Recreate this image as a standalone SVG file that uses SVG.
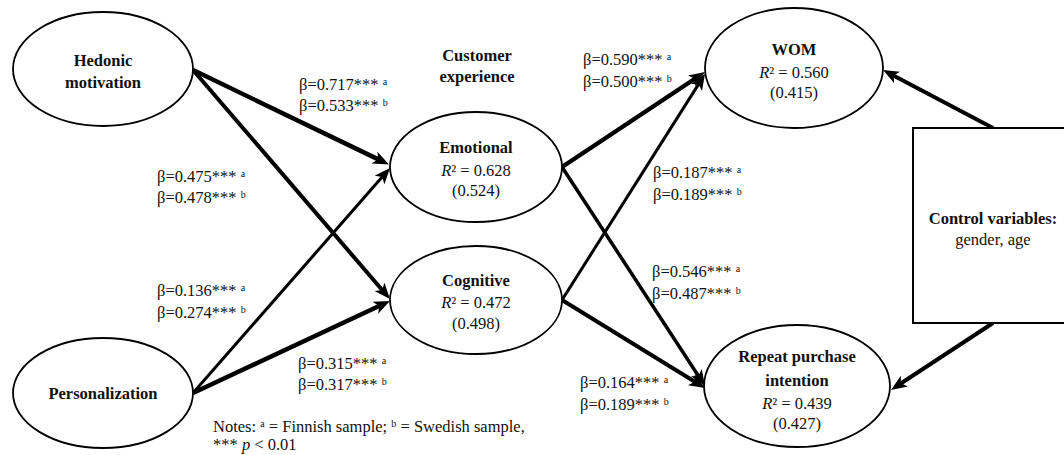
<svg xmlns="http://www.w3.org/2000/svg" width="1064" height="455" viewBox="0 0 1064 455">
<style>
.node{fill:#fff;stroke:#000;stroke-width:1.8}
.t{font-family:"Liberation Serif","Times New Roman",serif;font-size:16.5px;fill:#111}
.b{font-weight:bold;font-size:16.5px;text-anchor:middle}
.c{text-anchor:middle}
.sup{font-size:10px}
.e{fill:none;stroke:#000;marker-end:url(#ah)}
</style>
<defs>
<marker id="ah" viewBox="0 0 16 13" refX="7" refY="6.5" markerWidth="16" markerHeight="13" markerUnits="userSpaceOnUse" orient="auto">
<path d="M0,0 L16,6.5 L0,13 L4,6.5 z" fill="#000"/>
</marker>
</defs>
<rect width="1064" height="455" fill="#fff"/>
<g id="connectors">
<line class="e" x1="193" y1="70" x2="380.9" y2="160.6" stroke-width="4.5"/>
<line class="e" x1="193" y1="70" x2="384.1" y2="292.2" stroke-width="4"/>
<line class="e" x1="193" y1="393" x2="384.1" y2="174.8" stroke-width="3"/>
<line class="e" x1="193" y1="393" x2="381.8" y2="304.8" stroke-width="4.5"/>
<line class="e" x1="562" y1="167" x2="697.5" y2="77" stroke-width="4.5"/>
<line class="e" x1="562" y1="300" x2="700.2" y2="81.6" stroke-width="3"/>
<line class="e" x1="562" y1="167" x2="700.1" y2="378.5" stroke-width="3.5"/>
<line class="e" x1="562" y1="300" x2="697.3" y2="383.3" stroke-width="4"/>
<line class="e" x1="993" y1="128" x2="891" y2="74.2" stroke-width="4"/>
<line class="e" x1="993" y1="323" x2="898.5" y2="385" stroke-width="4"/>
</g>
<g id="hedonic">
<ellipse class="node" cx="103" cy="69" rx="90" ry="57"/>
<text class="t b" x="103" y="66">Hedonic</text>
<text class="t b" x="103" y="88">motivation</text>
</g>
<g id="personalization">
<ellipse class="node" cx="103" cy="393" rx="90" ry="55"/>
<text class="t b" x="103" y="399">Personalization</text>
</g>
<g id="customer-experience">
<text class="t b" x="477" y="61">Customer</text>
<text class="t b" x="477" y="82">experience</text>
</g>
<g id="emotional">
<ellipse class="node" cx="476" cy="167" rx="86" ry="55"/>
<text class="t b" x="476" y="153">Emotional</text>
<text class="t c" x="476" y="176"><tspan font-style="italic">R</tspan>² = 0.628</text>
<text class="t c" x="476" y="196">(0.524)</text>
</g>
<g id="cognitive">
<ellipse class="node" cx="476" cy="300" rx="86" ry="54"/>
<text class="t b" x="476" y="286">Cognitive</text>
<text class="t c" x="476" y="308"><tspan font-style="italic">R</tspan>² = 0.472</text>
<text class="t c" x="476" y="329">(0.498)</text>
</g>
<g id="wom">
<ellipse class="node" cx="794" cy="68" rx="89" ry="60"/>
<text class="t b" x="794" y="55">WOM</text>
<text class="t c" x="794" y="78"><tspan font-style="italic">R</tspan>² = 0.560</text>
<text class="t c" x="794" y="98">(0.415)</text>
</g>
<g id="repeat-purchase">
<ellipse class="node" cx="797" cy="386" rx="93" ry="61"/>
<text class="t b" x="797" y="362">Repeat purchase</text>
<text class="t b" x="797" y="386">intention</text>
<text class="t c" x="797" y="409"><tspan font-style="italic">R</tspan>² = 0.439</text>
<text class="t c" x="797" y="429">(0.427)</text>
</g>
<g id="control">
<rect x="913" y="128" width="160" height="195" fill="#fff" stroke="#000" stroke-width="2"/>
<text class="t b" x="993" y="224">Control variables:</text>
<text class="t c" x="993" y="245">gender, age</text>
</g>
<g id="labels">
<text class="t" x="299" y="90">β=0.717*** <tspan class="sup" dy="-5">a</tspan></text>
<text class="t" x="299" y="111">β=0.533*** <tspan class="sup" dy="-5">b</tspan></text>
<text class="t" x="157" y="182">β=0.475*** <tspan class="sup" dy="-5">a</tspan></text>
<text class="t" x="157" y="203">β=0.478*** <tspan class="sup" dy="-5">b</tspan></text>
<text class="t" x="157" y="296">β=0.136*** <tspan class="sup" dy="-5">a</tspan></text>
<text class="t" x="157" y="318">β=0.274*** <tspan class="sup" dy="-5">b</tspan></text>
<text class="t" x="298" y="369">β=0.315*** <tspan class="sup" dy="-5">a</tspan></text>
<text class="t" x="298" y="390">β=0.317*** <tspan class="sup" dy="-5">b</tspan></text>
<text class="t" x="583" y="65">β=0.590*** <tspan class="sup" dy="-5">a</tspan></text>
<text class="t" x="583" y="87">β=0.500*** <tspan class="sup" dy="-5">b</tspan></text>
<text class="t" x="653" y="178">β=0.187*** <tspan class="sup" dy="-5">a</tspan></text>
<text class="t" x="653" y="200">β=0.189*** <tspan class="sup" dy="-5">b</tspan></text>
<text class="t" x="652" y="277">β=0.546*** <tspan class="sup" dy="-5">a</tspan></text>
<text class="t" x="652" y="299">β=0.487*** <tspan class="sup" dy="-5">b</tspan></text>
<text class="t" x="580" y="388">β=0.164*** <tspan class="sup" dy="-5">a</tspan></text>
<text class="t" x="580" y="410">β=0.189*** <tspan class="sup" dy="-5">b</tspan></text>
</g>
<g id="notes">
<text class="t" x="213" y="432">Notes: <tspan class="sup" dy="-5">a</tspan><tspan dy="5"> = Finnish sample; </tspan><tspan class="sup" dy="-5">b</tspan><tspan dy="5"> = Swedish sample,</tspan></text>
<text class="t" x="213" y="450">*** <tspan font-style="italic">p</tspan> &lt; 0.01</text>
</g>
</svg>
